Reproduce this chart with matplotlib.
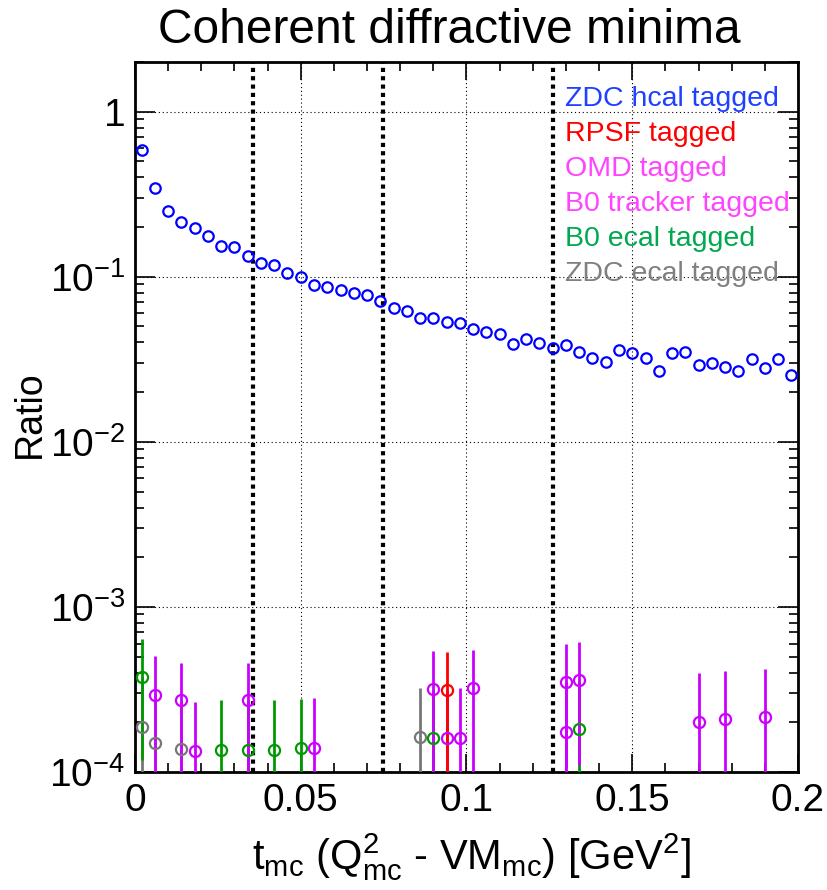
import matplotlib
matplotlib.use("Agg")
import matplotlib.pyplot as plt
import matplotlib.ticker as mticker
import numpy as np

plt.rcParams["font.family"] = ["Liberation Sans", "DejaVu Sans"]
plt.rcParams["mathtext.fontset"] = "custom"
plt.rcParams["mathtext.rm"] = "Liberation Sans"
plt.rcParams["mathtext.it"] = "Liberation Sans"
plt.rcParams["mathtext.bf"] = "Liberation Sans:bold"

# ── data ──────────────────────────────────────────────────────────────────────
# ZDC hcal tagged: 50 bins of width 0.004 GeV^2
zdc_hcal_t = np.arange(0.002, 0.2, 0.004)
zdc_hcal_ratio = [
    0.586, 0.343, 0.251, 0.215, 0.198, 0.176, 0.153, 0.151, 0.133, 0.122,
    0.118, 0.106, 0.0995, 0.0895, 0.0863, 0.083, 0.0793, 0.0781, 0.0713, 0.0643,
    0.062, 0.056, 0.056, 0.0533, 0.0522, 0.048, 0.0464, 0.0448, 0.0389, 0.0418,
    0.0395, 0.0371, 0.0386, 0.0351, 0.0323, 0.0305, 0.036, 0.0346, 0.0323, 0.0268,
    0.0346, 0.0351, 0.0292, 0.0301, 0.0285, 0.0268, 0.0316, 0.0282, 0.0316, 0.0254,
]

rpsf_t = [0.094]
rpsf_ratio = [3.15e-4]
rpsf_err = [2.15e-4]

omd_t = [0.094, 0.098, 0.130]
omd_ratio = [1.60e-4, 1.61e-4, 1.75e-4]
omd_err = [1.55e-4, 1.60e-4, 1.78e-4]

b0trk_t = [0.006, 0.014, 0.018, 0.034, 0.054, 0.090, 0.102, 0.130, 0.134, 0.170, 0.178, 0.190]
b0trk_ratio = [2.93e-4, 2.73e-4, 1.34e-4, 2.73e-4, 1.40e-4, 3.17e-4, 3.21e-4, 3.53e-4,
               3.60e-4, 2.02e-4, 2.09e-4, 2.16e-4]
b0trk_err = [2.10e-4, 1.87e-4, 1.33e-4, 1.87e-4, 1.40e-4, 2.23e-4, 2.30e-4, 2.47e-4,
             2.50e-4, 1.94e-4, 2.00e-4, 2.05e-4]

b0ecal_t = [0.002, 0.026, 0.034, 0.042, 0.050, 0.090, 0.134]
b0ecal_ratio = [3.78e-4, 1.36e-4, 1.36e-4, 1.36e-4, 1.39e-4, 1.60e-4, 1.81e-4]
b0ecal_err = [2.60e-4, 1.36e-4, 1.36e-4, 1.36e-4, 1.39e-4, 1.55e-4, 1.74e-4]

zdc_ecal_t = [0.002, 0.006, 0.014, 0.086]
zdc_ecal_ratio = [1.88e-4, 1.50e-4, 1.37e-4, 1.62e-4]
zdc_ecal_err = [1.88e-4, 1.45e-4, 1.35e-4, 1.60e-4]

# positions of the coherent diffractive minima
minima_t = [0.0357, 0.0749, 0.1261]

legend_labels = ["ZDC hcal tagged", "RPSF tagged", "OMD tagged",
                 "B0 tracker tagged", "B0 ecal tagged", "ZDC ecal tagged"]
legend_colors = ["#1f40ff", "#ff0000", "#ff44ff", "#ff44ff", "#00a850", "#808080"]

# ── figure ────────────────────────────────────────────────────────────────────
fig = plt.figure(figsize=(8.28, 8.9), dpi=100)
ax = fig.add_axes([0.163, 0.1326, 0.8008, 0.7977])
ax.set_yscale("log", nonpositive="clip")
ax.set_xlim(0, 0.2)
ax.set_ylim(1e-4, 2)

ax.grid(True, which="major", color="black", lw=0.8, linestyle=(0, (1, 2.5)))
ax.set_axisbelow(True)

for t in minima_t:
    ax.axvline(t, color="black", lw=3, linestyle=(0, (1, 1)), zorder=2)

ax.plot(zdc_hcal_t, zdc_hcal_ratio, linestyle="none", marker="o", ms=7.5,
        mfc="none", mec="#0000ff", mew=1.6, zorder=5)

small = [
    (zdc_ecal_t, zdc_ecal_ratio, zdc_ecal_err, "#777777"),
    (b0ecal_t, b0ecal_ratio, b0ecal_err, "#009a00"),
    (b0trk_t, b0trk_ratio, b0trk_err, "#cc00ff"),
    (omd_t, omd_ratio, omd_err, "#cc00ff"),
    (rpsf_t, rpsf_ratio, rpsf_err, "#ff0000"),
]
for t, r, e, c in small:
    ax.errorbar(t, r, yerr=e, fmt="o", ms=8, mfc="none", mec=c, mew=1.6,
                ecolor=c, elinewidth=2, capsize=0, zorder=4)

# ticks
ax.xaxis.set_major_locator(mticker.MultipleLocator(0.05))
ax.xaxis.set_minor_locator(mticker.MultipleLocator(0.01))
ax.xaxis.set_major_formatter(mticker.FuncFormatter(lambda v, p: f"{v:g}"))
ax.yaxis.set_major_locator(mticker.LogLocator(base=10, numticks=10))
ax.yaxis.set_minor_locator(mticker.LogLocator(base=10, subs=np.arange(2, 10), numticks=20))
ax.yaxis.set_minor_formatter(mticker.NullFormatter())


def ylab(v, p):
    e = int(round(np.log10(v)))
    return "1" if e == 0 else r"$10^{%d}$" % e


ax.yaxis.set_major_formatter(mticker.FuncFormatter(ylab))
ax.tick_params(which="both", direction="in", top=True, right=True, width=1.2,
               labelsize=28)
ax.tick_params(axis="x", which="major", length=13, pad=8)
ax.tick_params(axis="x", which="minor", length=6.5)
ax.tick_params(axis="y", which="major", length=14.5, pad=7)
ax.tick_params(axis="y", which="minor", length=6.5)
for s in ax.spines.values():
    s.set_linewidth(2)

# legend: coloured text only
for i, (lab, col) in enumerate(zip(legend_labels, legend_colors)):
    ax.text(0.6486, 0.938 - i * 0.0494, lab, color=col, fontsize=20.5,
            transform=ax.transAxes, ha="left", va="baseline", zorder=6)

fig.text(0.543, 0.952, "Coherent diffractive minima", fontsize=34.5,
         ha="center", va="baseline")
fig.text(0.036, 0.535, "Ratio", fontsize=27, rotation=90, ha="center", va="center")
fig.text(0.569, 0.0235,
         r"t$_{\rm mc}$ (Q$^{2}_{\rm mc}$ - VM$_{\rm mc}$) [GeV$^{2}$]",
         fontsize=30, ha="center", va="baseline")

fig.savefig("out.png", dpi=100)
